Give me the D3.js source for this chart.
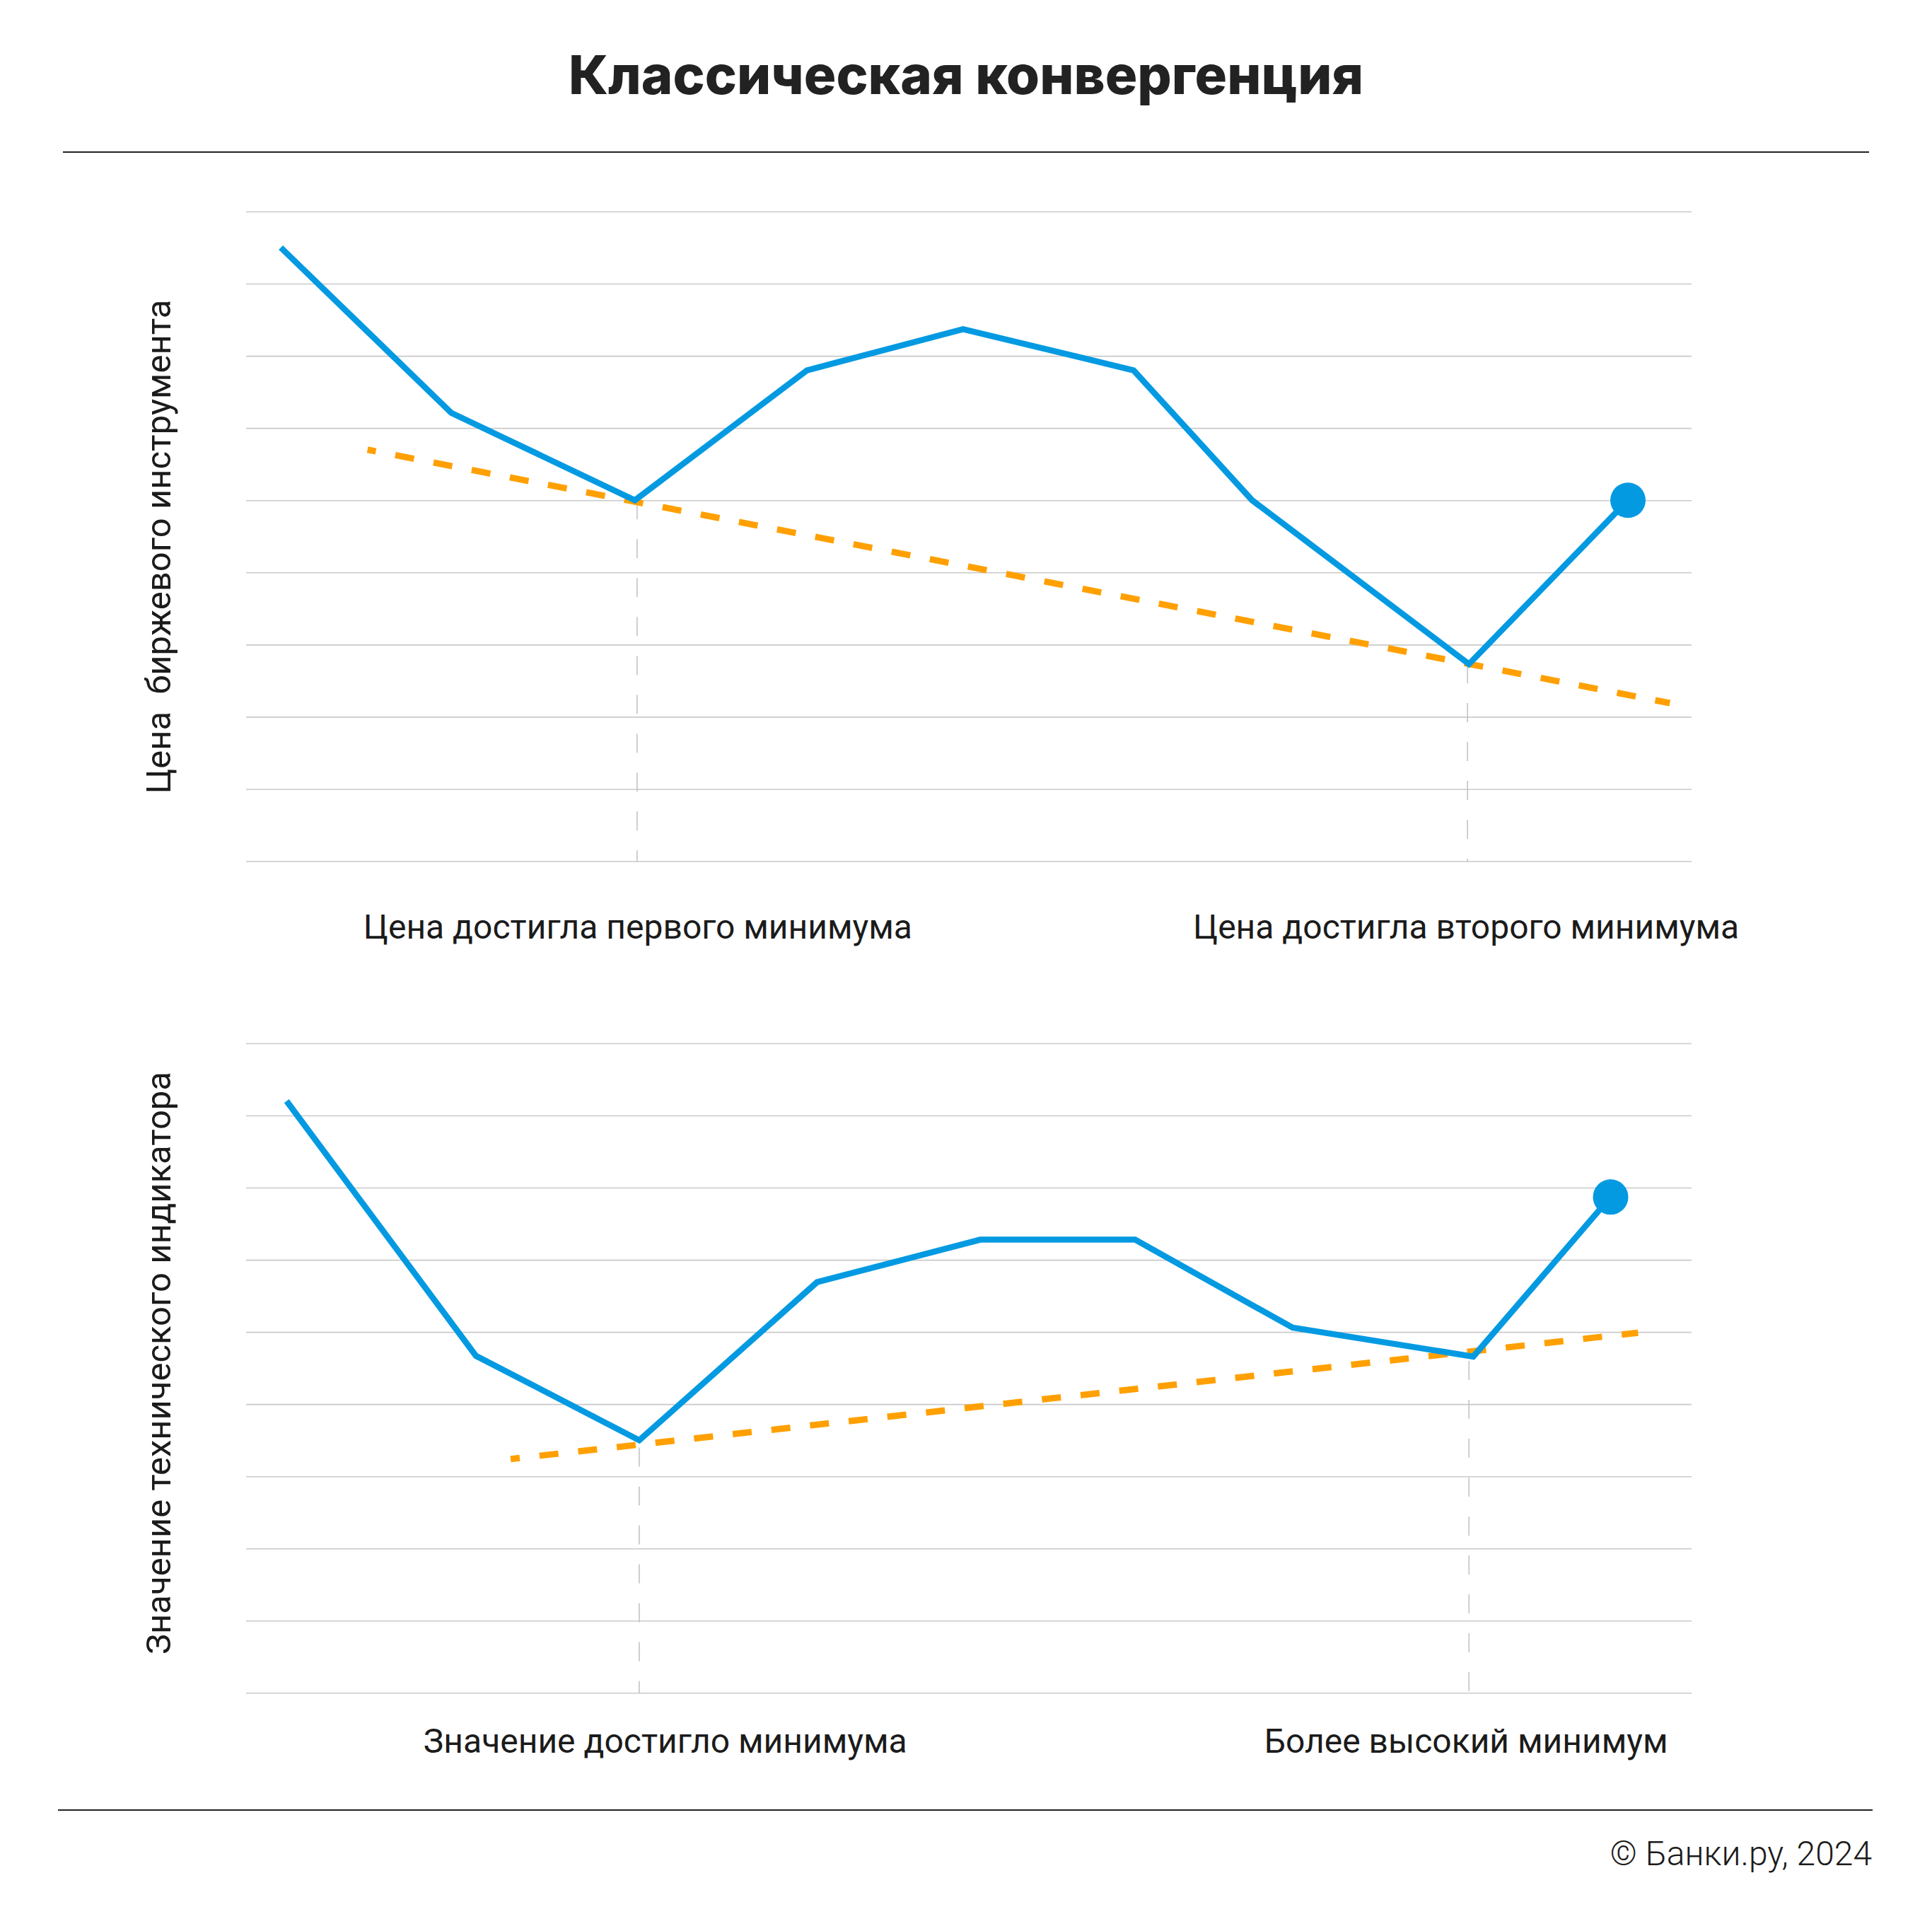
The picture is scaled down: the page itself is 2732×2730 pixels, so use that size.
<!DOCTYPE html>
<html>
<head>
<meta charset="utf-8">
<script src="https://cdn.jsdelivr.net/npm/d3@7"></script>
<style>
  html, body { margin: 0; padding: 0; background: #ffffff; }
  svg { display: block; }
</style>
</head>
<body>
<script>
// ---------- DATA ----------
const titleText = "Классическая конвергенция";
const sourceText = "© Банки.ру, 2024";

// Price chart (top)
const priceAxisLabel = "Цена  биржевого инструмента";
const priceX = [2.4, 14.2, 26.9, 38.8, 49.6, 61.4, 69.6, 84.6, 95.6];
const priceY = [8.5, 6.21, 5.0, 6.8, 7.37, 6.8, 5.0, 2.73, 5.0];
const priceTrendX = [8.4, 98.5];
const priceTrendY = [5.70, 2.19];
const priceMarkers = [27.05, 84.5];
const priceMarkerY = [5.0, 2.73];
const priceLabels = ["Цена достигла первого минимума", "Цена достигла второго минимума"];
const priceLabelX = [27.1, 84.4];

// Indicator chart (bottom)
const indAxisLabel = "Значение технического индикатора";
const indX = [2.8, 15.9, 27.2, 39.5, 50.8, 61.5, 72.4, 84.9, 94.4];
const indY = [8.2, 4.67, 3.5, 5.69, 6.28, 6.28, 5.06, 4.66, 6.87];
const indTrendX = [18.3, 96.3];
const indTrendY = [3.24, 4.99];
const indMarkers = [27.2, 84.6];
const indMarkerY = [3.4, 4.6];
const indLabels = ["Значение достигло минимума", "Более высокий минимум"];
const indLabelX = [29.0, 84.4];

const yTicks = [0, 1, 2, 3, 4, 5, 6, 7, 8, 9];

// ---------- STYLE / LAYOUT ----------
const W = 2732, H = 2730;
const BLUE = "#049ae2", ORANGE = "#ffa000", GRID = "#c9c9c9", TEXT = "#1b1b1b";

const svg = d3.select("body").append("svg")
  .attr("width", W).attr("height", H)
  .attr("viewBox", `0 0 ${W} ${H}`);

svg.append("rect").attr("width", W).attr("height", H).attr("fill", "#fff");

// Title
svg.append("text")
  .attr("x", 1366).attr("y", 133)
  .attr("text-anchor", "middle")
  .attr("font-family", "Inter, 'Noto Sans', sans-serif")
  .attr("font-weight", 800)
  .attr("font-size", 76)
  .attr("fill", "#222")
  .text(titleText);

// Separators
svg.append("line").attr("x1", 89).attr("x2", 2643).attr("y1", 215).attr("y2", 215)
  .attr("stroke", "#222").attr("stroke-width", 2);
svg.append("line").attr("x1", 82).attr("x2", 2648).attr("y1", 2559).attr("y2", 2559)
  .attr("stroke", "#222").attr("stroke-width", 2);

// Source
svg.append("text")
  .attr("x", 2647).attr("y", 2637)
  .attr("text-anchor", "end")
  .attr("font-family", "Roboto, sans-serif")
  .attr("font-weight", 300)
  .attr("font-size", 48)
  .attr("fill", TEXT)
  .text(sourceText);

const x = d3.scaleLinear().domain([0, 100]).range([348, 2392]);

function drawPanel(cfg) {
  const y = d3.scaleLinear().domain([0, 9]).range([cfg.bottom, cfg.top]);
  const g = svg.append("g");

  // Grid via axis
  const grid = g.append("g")
    .attr("transform", `translate(${x(0)},0)`)
    .call(d3.axisLeft(y).tickValues(yTicks).tickSize(-(x(100) - x(0))).tickFormat(""));
  grid.select(".domain").remove();
  grid.selectAll(".tick line").attr("stroke", GRID).attr("stroke-width", 1.6);

  // Vertical dashed markers
  g.selectAll(".marker").data(cfg.markers).enter().append("line")
    .attr("x1", d => x(d)).attr("x2", d => x(d))
    .attr("y1", (d, i) => y(cfg.markerY[i])).attr("y2", y(0))
    .attr("stroke", "#c4c4c4").attr("stroke-width", 1.6)
    .attr("stroke-dasharray", "27,28");

  // Trend line (orange dashed)
  const trend = cfg.trendX.map((d, i) => [d, cfg.trendY[i]]);
  g.append("path")
    .datum(trend)
    .attr("d", d3.line().x(d => x(d[0])).y(d => y(d[1])))
    .attr("fill", "none").attr("stroke", ORANGE).attr("stroke-width", 9)
    .attr("stroke-dasharray", "27,28").attr("stroke-dashoffset", cfg.dashOffset);

  // Series line
  const pts = cfg.xs.map((d, i) => [d, cfg.ys[i]]);
  g.append("path")
    .datum(pts)
    .attr("d", d3.line().x(d => x(d[0])).y(d => y(d[1])))
    .attr("fill", "none").attr("stroke", BLUE).attr("stroke-width", 8.5)
    .attr("stroke-linejoin", "miter");

  // End dot
  const last = pts[pts.length - 1];
  g.append("circle")
    .attr("cx", x(last[0])).attr("cy", y(last[1])).attr("r", 25)
    .attr("fill", BLUE);

  // Y label (rotated)
  g.append("text")
    .attr("transform", `translate(241,${cfg.labelCY}) rotate(-90)`)
    .attr("text-anchor", "middle")
    .attr("font-family", "Roboto, sans-serif")
    .attr("font-size", 49)
    .attr("fill", TEXT)
    .attr("xml:space", "preserve")
    .style("white-space", "pre")
    .text(cfg.axisLabel);

  // Bottom labels
  g.selectAll(".xlab").data(cfg.labels).enter().append("text")
    .attr("x", (d, i) => x(cfg.labelX[i]))
    .attr("y", cfg.labelBaseline)
    .attr("text-anchor", "middle")
    .attr("font-family", "Roboto, sans-serif")
    .attr("font-size", 48)
    .attr("fill", TEXT)
    .text(d => d);
}

drawPanel({
  top: 299, bottom: 1217.5,
  xs: priceX, ys: priceY,
  trendX: priceTrendX, trendY: priceTrendY, dashOffset: 15,
  markers: priceMarkers, markerY: priceMarkerY,
  axisLabel: priceAxisLabel, labelCY: 773,
  labels: priceLabels, labelX: priceLabelX, labelBaseline: 1327
});

drawPanel({
  top: 1475, bottom: 2393.3,
  xs: indX, ys: indY,
  trendX: indTrendX, trendY: indTrendY, dashOffset: 14,
  markers: indMarkers, markerY: indMarkerY,
  axisLabel: indAxisLabel, labelCY: 1927,
  labels: indLabels, labelX: indLabelX, labelBaseline: 2478
});
</script>
</body>
</html>
